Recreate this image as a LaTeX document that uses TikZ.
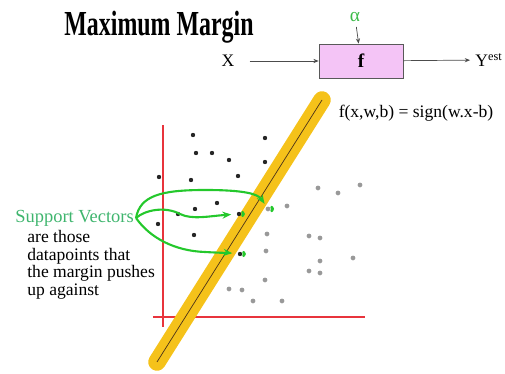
\documentclass[tikz,border=0pt]{standalone}
\usepackage{fontspec}
\setmainfont{Liberation Serif}
\usetikzlibrary{arrows.meta, positioning}

\definecolor{boxpink}{HTML}{F4C4F6}
\definecolor{svgreen}{HTML}{24C82C}
\definecolor{labelgreen}{HTML}{3FB56E}
\definecolor{alphagreen}{HTML}{3DBB4A}
\definecolor{bandgold}{HTML}{F5C21A}
\definecolor{axisred}{HTML}{E8343C}

\begin{document}
\begin{tikzpicture}[
    x=0.02cm, y=-0.02cm,
    every node/.style={inner sep=0pt, font=\fontsize{10}{12}\selectfont},
    dark_dot/.style={circle, fill=black!85, minimum size=2.5pt},
    gray_dot/.style={circle, fill=gray!80, minimum size=2.7pt},
    func_box/.style={draw=gray!70!black, fill=boxpink, minimum width=1.68cm, minimum height=0.68cm, font=\fontsize{11}{13}\selectfont\bfseries},
    signal/.style={-{Stealth[length=3pt, width=2.4pt]}, thin, color=black!70},
    axis/.style={line width=0.8pt, color=axisred},
    band/.style={line width=10pt, line cap=round, color=bandgold},
    pointer/.style={-{Stealth[length=5pt, width=4pt]}, line width=1.2pt, color=svgreen},
    sv_mark/.style={line width=1.6pt, color=svgreen, line cap=round}
]
\useasboundingbox (0,0) rectangle (505,374);

% Titulo
\node (title) at (159,27) {\scalebox{0.68}[1]{\fontsize{20}{24}\selectfont\bfseries Maximum Margin}};

% Bloque f
\node (xin) at (228,61) {X};
\node[func_box] (f) at (361,61) {f};
\node (yout) at (489,60) {Y\textsuperscript{est}};
\node[text=alphagreen, font=\fontsize{11}{13}\selectfont] (alpha) at (355,17) {α};
\node (rule) at (416,113) {f(x,w,b) = sign(w.x-b)};

\draw[signal, shorten <=0.3cm] (xin) -- (f);
\draw[signal, shorten >=0.1cm] (f) -- (yout);
\draw[signal, shorten <=0.1cm] (alpha) -- (f);

% Ejes
\coordinate (ytop) at (163,125);
\coordinate (ybot) at (163,327);
\coordinate (xleft) at (153,317);
\coordinate (xright) at (365,317);
\draw[axis] (ybot) -- (ytop);
\draw[axis] (xleft) -- (xright);

% Margen
\coordinate (bandlo) at (157,362);
\coordinate (bandhi) at (322,100);
\draw[band] (bandlo) -- (bandhi);
\draw[thin, color=black!60!brown] (bandlo) -- (bandhi);

% Puntos oscuros
\node[dark_dot] (a1) at (193,135) {};
\node[dark_dot] (a2) at (265,138) {};
\node[dark_dot] (a3) at (196,153) {};
\node[dark_dot] (a4) at (212,153) {};
\node[dark_dot] (a5) at (229,160) {};
\node[dark_dot] (a6) at (265,162) {};
\node[dark_dot] (a7) at (159,177) {};
\node[dark_dot] (a8) at (191,180) {};
\node[dark_dot] (a9) at (238,176) {};
\node[dark_dot] (a10) at (217,203) {};
\node[dark_dot] (a11) at (195,209) {};
\node[dark_dot] (a12) at (178,214) {};
\node[dark_dot] (a13) at (158,224) {};
\node[dark_dot] (a14) at (194,235) {};
\node[dark_dot] (sv2) at (239,214) {};
\node[dark_dot] (sv3) at (240,254) {};

% Puntos grises
\node[gray_dot] (sv1) at (268,209) {};
\node[gray_dot] (c1) at (287,206) {};
\node[gray_dot] (c2) at (318,188) {};
\node[gray_dot] (c3) at (338,193) {};
\node[gray_dot] (c4) at (360,185) {};
\node[gray_dot] (c5) at (267,234) {};
\node[gray_dot] (c6) at (309,236) {};
\node[gray_dot] (c7) at (320,238) {};
\node[gray_dot] (c8) at (266,251) {};
\node[gray_dot] (c9) at (320,261) {};
\node[gray_dot] (c10) at (353,258) {};
\node[gray_dot] (c11) at (309,271) {};
\node[gray_dot] (c12) at (320,273) {};
\node[gray_dot] (c13) at (265,280) {};
\node[gray_dot] (c14) at (229,289) {};
\node[gray_dot] (c15) at (242,290) {};
\node[gray_dot] (c16) at (253,301) {};
\node[gray_dot] (c17) at (282,301) {};

% Texto
\node[text=labelgreen, anchor=west, font=\fontsize{10.5}{12}\selectfont] (svlabel) at (15,218) {Support Vectors};
\node[anchor=base west] (line1) at (27,243) {are those};
\node[anchor=base west] (line2) at (27,261) {datapoints that};
\node[anchor=base west] (line3) at (27,278) {the margin pushes};
\node[anchor=base west] (line4) at (27,296) {up against};

% Flechas verdes
\coordinate (svfrom) at (136,218);
\draw[pointer, shorten >=2pt] (svfrom) .. controls (140,196) and (160,190) .. (205,190)
    .. controls (245,190) and (258,194) .. (sv1);
\draw[pointer, shorten >=3pt] (svfrom) .. controls (145,210) and (165,206) .. (180,214)
    .. controls (192,220) and (210,216) .. (sv2);
\draw[pointer, shorten >=3pt] (svfrom) .. controls (150,238) and (175,251) .. (205,252)
    .. controls (222,253) and (230,253) .. (sv3);
\draw[sv_mark] ([xshift=1pt]sv1.north east) to[bend left=50] ([xshift=1pt]sv1.south east);
\draw[sv_mark] ([xshift=1pt]sv2.north east) to[bend left=50] ([xshift=1pt]sv2.south east);
\draw[sv_mark] ([xshift=1pt]sv3.north east) to[bend left=50] ([xshift=1pt]sv3.south east);

\end{tikzpicture}
\end{document}
